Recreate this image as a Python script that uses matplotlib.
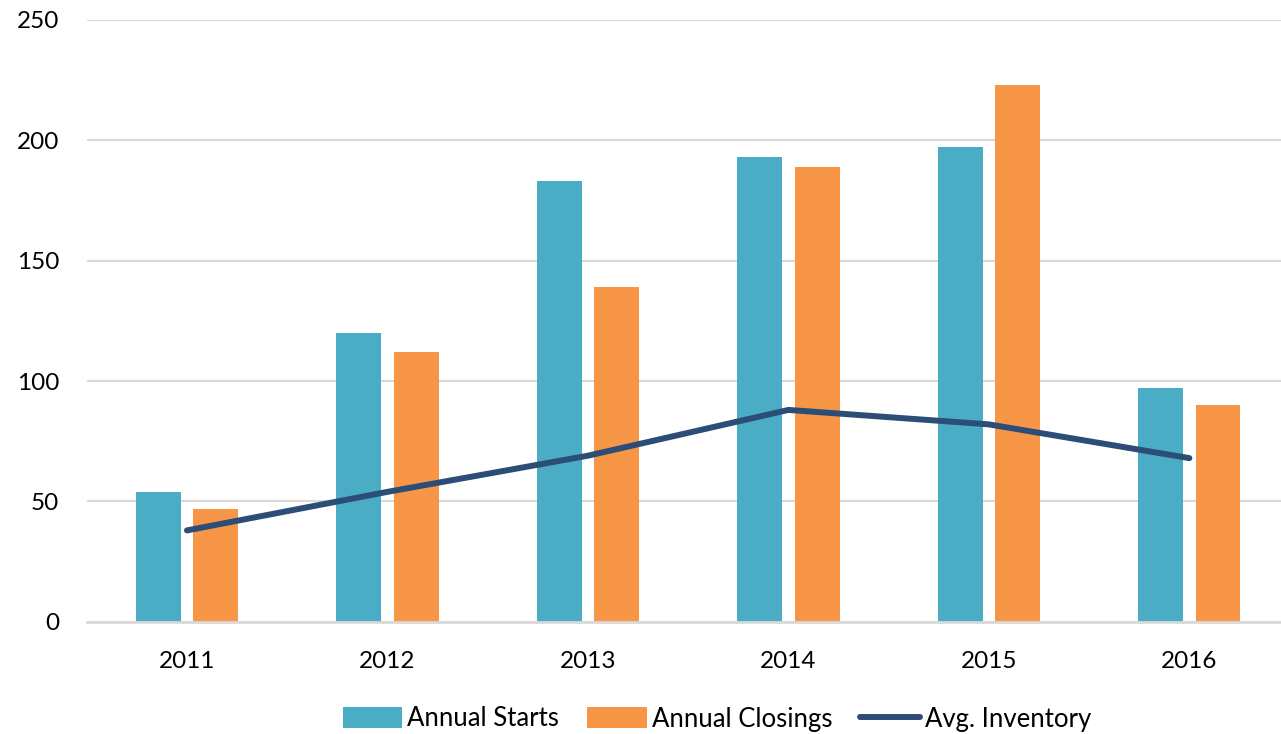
import numpy as np
import matplotlib
matplotlib.use("Agg")
import matplotlib.pyplot as plt

plt.rcParams['font.family'] = ['Lato', 'DejaVu Sans']

# values
years = ['2011', '2012', '2013', '2014', '2015', '2016']
annual_starts = [54, 120, 183, 193, 197, 97]
annual_closings = [47, 112, 139, 189, 223, 90]
avg_inventory = [38, 54, 69, 88, 82, 68]

blue = '#4BACC6'
orange = '#F79646'
navy = '#2C4D75'
grid_grey = '#D9D9D9'

fig = plt.figure(figsize=(12.81, 7.34), dpi=100)
ax = fig.add_axes([0.0677, 0.1526, 0.939, 0.8208])

x = np.arange(len(years))
w = 0.224
off = 0.143

b1 = ax.bar(x - off, annual_starts, w, color=blue, label='Annual Starts', zorder=2)
b2 = ax.bar(x + off, annual_closings, w, color=orange, label='Annual Closings', zorder=2)
ln, = ax.plot(x, avg_inventory, color=navy, lw=4.3, solid_capstyle='round',
              label='Avg. Inventory', zorder=3)

ax.set_xlim(-0.5, 5.5)
ax.set_ylim(0, 250)
ax.set_yticks([0, 50, 100, 150, 200, 250])
ax.set_xticks(x)
ax.set_xticklabels(years)

ax.grid(axis='y', color=grid_grey, lw=1.5, zorder=0)
ax.set_axisbelow(True)
for s in ['top', 'right', 'left']:
    ax.spines[s].set_visible(False)
ax.spines['bottom'].set_color(grid_grey)
ax.spines['bottom'].set_linewidth(2)

ax.tick_params(axis='both', length=0, labelsize=17.5, colors='black')
ax.tick_params(axis='x', pad=21)
ax.tick_params(axis='y', pad=20)

ax.legend([b1, b2, ln], ['Annual Starts', 'Annual Closings', 'Avg. Inventory'],
          loc='center', bbox_to_anchor=(717 / 1281, 1 - 719 / 734),
          bbox_transform=fig.transFigure, ncol=3, frameon=False, fontsize=18.5,
          handlelength=2.3, handleheight=0.9, handletextpad=0.2,
          columnspacing=1.1)

fig.savefig('out.png', dpi=100)
